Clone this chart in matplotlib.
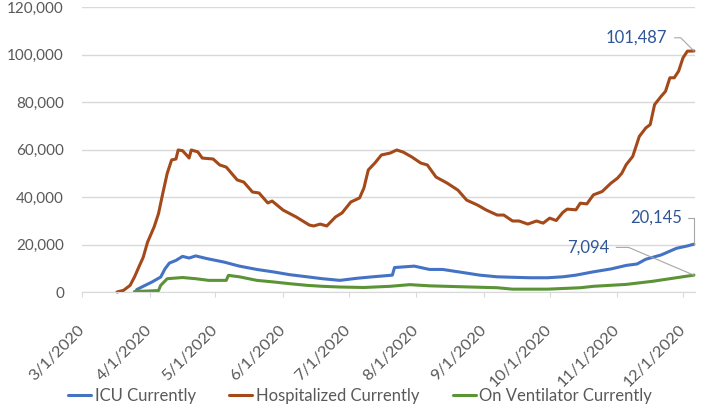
import matplotlib.pyplot as plt
import matplotlib.ticker as mticker
import pandas as pd

# ---- datos ----
hosp_dates = ["3/17", "3/20", "3/23", "3/25", "3/27", "3/29", "3/31", "4/3", "4/5", "4/7",
              "4/9", "4/11", "4/13", "4/14", "4/16", "4/18", "4/19", "4/20", "4/23", "4/25",
              "4/30", "5/3", "5/6", "5/11", "5/14", "5/18", "5/21", "5/25", "5/27", "6/1",
              "6/7", "6/13", "6/15", "6/18", "6/21", "6/25", "6/28", "7/2", "7/6", "7/8",
              "7/10", "7/13", "7/16", "7/20", "7/23", "7/26", "7/30", "8/3", "8/6", "8/10",
              "8/15", "8/20", "8/24", "8/29", "9/2", "9/7", "9/10", "9/14", "9/17", "9/21",
              "9/25", "9/28", "10/1", "10/4", "10/7", "10/9", "10/13", "10/15", "10/18", "10/21",
              "10/25", "10/29", "11/1", "11/3", "11/5", "11/8", "11/11", "11/14", "11/16", "11/18",
              "11/21", "11/23", "11/25", "11/27", "11/29", "12/1", "12/3", "12/6"]
hosp_vals = [0, 700, 2800, 6300, 10500, 14600, 21000, 27400, 33000, 41700,
             50000, 55600, 56000, 59800, 59500, 57500, 56400, 59800, 59000, 56400,
             56000, 53500, 52600, 47200, 46300, 42100, 41700, 37500, 38300, 34500,
             31600, 28200, 27800, 28600, 27800, 31600, 33300, 37900, 39600, 43800,
             51400, 54300, 57700, 58500, 59800, 58900, 56800, 54300, 53500, 48400,
             45900, 42900, 38700, 36600, 34500, 32400, 32400, 29900, 29900, 28600,
             29900, 29000, 31100, 30100, 33500, 34900, 34600, 37400, 37100, 40900,
             42300, 45800, 47900, 50000, 53600, 57100, 65500, 69100, 70500, 78900,
             82400, 84500, 90200, 90200, 93000, 98600, 101400, 101487]

icu_dates = ["3/26", "3/29", "4/2", "4/6", "4/8", "4/10", "4/13", "4/16", "4/19", "4/22",
             "4/27", "5/5", "5/12", "5/20", "5/28", "6/4", "6/12", "6/19", "6/27", "7/5",
             "7/12", "7/21", "7/22", "7/31", "8/7", "8/13", "8/23", "8/30", "9/7", "9/14",
             "9/22", "9/30", "10/7", "10/13", "10/21", "10/29", "11/5", "11/10", "11/14", "11/21",
             "11/28", "12/3", "12/6"]
icu_vals = [1000, 2400, 4200, 6300, 9800, 12200, 13300, 15000, 14300, 15200,
            14100, 12600, 10900, 9500, 8400, 7300, 6400, 5600, 4900, 5800,
            6400, 7100, 10300, 10900, 9500, 9500, 8100, 7100, 6400, 6200,
            6000, 6000, 6400, 7100, 8500, 9700, 11200, 11800, 13800, 15600,
            18400, 19400, 20145]

vent_dates = ["3/25", "4/5", "4/6", "4/9", "4/16", "4/22", "4/28", "5/6", "5/7", "5/12",
              "5/20", "5/28", "6/4", "6/12", "6/19", "6/27", "7/8", "7/20", "7/29", "8/7",
              "8/22", "9/7", "9/14", "9/30", "10/15", "10/21", "11/5", "11/17", "11/25", "12/3",
              "12/6"]
vent_vals = [200, 600, 2800, 5600, 6100, 5600, 4900, 4900, 7000, 6400,
             4900, 4200, 3500, 2800, 2400, 2100, 1900, 2400, 3100, 2600,
             2200, 1800, 1200, 1200, 1800, 2400, 3200, 4500, 5600, 6700,
             7094]

month_ticks = ["3/1", "4/1", "5/1", "6/1", "7/1", "8/1", "9/1", "10/1", "11/1", "12/1"]


def to_dates(lst):
    return pd.to_datetime([s + "/2020" for s in lst], format="%m/%d/%Y")


# ---- estilo ----
plt.rcParams["font.family"] = ["Lato", "DejaVu Sans"]
gris_txt = "#595959"
gris_lin = "#D9D9D9"

fig = plt.figure(figsize=(7.2, 4.05), dpi=100)
ax = fig.add_axes([0.1139, 0.279, 0.8514, 0.7037])

l1, = ax.plot(to_dates(icu_dates), icu_vals, color="#4472C4", lw=2.2,
              label="ICU Currently", solid_capstyle="round")
l2, = ax.plot(to_dates(hosp_dates), hosp_vals, color="#A4491A", lw=2.2,
              label="Hospitalized Currently", solid_capstyle="round")
l3, = ax.plot(to_dates(vent_dates), vent_vals, color="#5B9337", lw=2.2,
              label="On Ventilator Currently", solid_capstyle="round")
for ln in (l1, l2, l3):
    ln.set_clip_on(False)

ax.set_ylim(0, 120000)
ax.set_xlim(pd.Timestamp("2020-03-01"), pd.Timestamp("2020-12-06 12:00"))
ax.yaxis.set_major_locator(mticker.MultipleLocator(20000))
ax.yaxis.set_major_formatter(mticker.FuncFormatter(lambda v, p: f"{int(v):,}"))
ax.grid(axis="y", color=gris_lin, lw=1)
ax.set_axisbelow(True)

xt = to_dates(month_ticks)
ax.set_xticks(xt)
ax.set_xticklabels([f"{d.month}/{d.day}/{d.year}" for d in xt])
for lab in ax.get_xticklabels():
    lab.set_rotation(45)
    lab.set_ha("right")
    lab.set_va("center")
    lab.set_rotation_mode("anchor")

for s in ("top", "right", "left"):
    ax.spines[s].set_visible(False)
ax.spines["bottom"].set_color(gris_lin)
ax.tick_params(axis="y", length=0, pad=13, labelsize=11, labelcolor=gris_txt)
ax.tick_params(axis="x", length=3.6, color=gris_lin, pad=22, labelsize=11.8,
               labelcolor=gris_txt)

# ---- etiquetas de datos ----
azul = "#2F5597"
gris_guia = "#A6A6A6"
fin = pd.Timestamp("2020-12-06")
ax.annotate(f"{hosp_vals[-1]:,}", xy=(fin, hosp_vals[-1]), xytext=(-19, 9.5),
            textcoords="offset points", ha="right", va="center", fontsize=12,
            color=azul, annotation_clip=False,
            arrowprops=dict(arrowstyle="-", color=gris_guia, lw=0.8, relpos=(1, 0.5),
                            shrinkA=3, shrinkB=0,
                            connectionstyle="angle,angleA=0,angleB=135,rad=0"))
ax.annotate(f"{icu_vals[-1]:,}", xy=(fin, icu_vals[-1]), xytext=(-8.5, 19),
            textcoords="offset points", ha="right", va="center", fontsize=12,
            color=azul, annotation_clip=False,
            arrowprops=dict(arrowstyle="-", color=gris_guia, lw=0.8, relpos=(1, 0.5),
                            shrinkA=2, shrinkB=0,
                            connectionstyle="angle,angleA=0,angleB=90,rad=0"))
ax.annotate(f"{vent_vals[-1]:,}", xy=(fin, vent_vals[-1]), xytext=(-61, 20),
            textcoords="offset points", ha="right", va="center", fontsize=12,
            color=azul, annotation_clip=False,
            arrowprops=dict(arrowstyle="-", color=gris_guia, lw=0.8, relpos=(1, 0.5),
                            shrinkA=3, shrinkB=0,
                            connectionstyle="angle,angleA=0,angleB=157,rad=0"))

fig.legend(handles=[l1, l2, l3], loc="center", bbox_to_anchor=(0.5, 9 / 405),
           ncol=3, frameon=False, fontsize=12, labelcolor=gris_txt,
           handlelength=1.4, handletextpad=0.2, columnspacing=2.0)

fig.savefig("out.png", dpi=100)
